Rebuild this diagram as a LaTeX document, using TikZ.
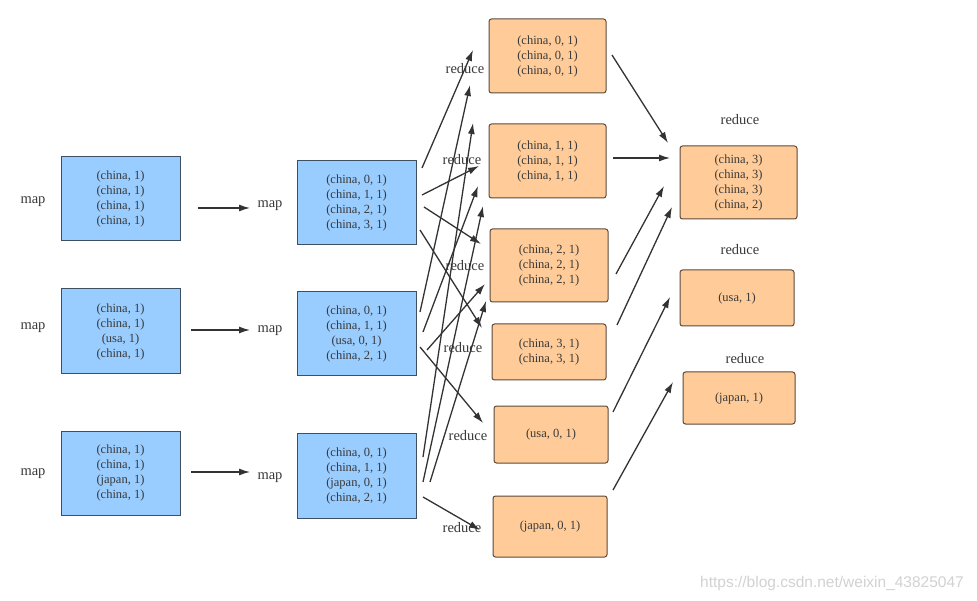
\documentclass[tikz,border=0pt]{standalone}
\usepackage{fontspec}
\setmainfont{Liberation Serif}
\newfontfamily\wmfont{Liberation Sans}
\usetikzlibrary{arrows.meta}
\definecolor{bluefill}{HTML}{99CCFF}
\definecolor{blueline}{HTML}{3C4F63}
\definecolor{orfill}{HTML}{FFCC99}
\definecolor{orline}{HTML}{5C4A3A}
\definecolor{txtcol}{HTML}{3A3A3A}
\definecolor{arrcol}{HTML}{333333}
\definecolor{wmcol}{HTML}{D2D2D2}
\begin{document}
\begin{tikzpicture}[x=1pt,y=-1pt,
  bbox/.style={draw=blueline, fill=bluefill, line width=1pt, inner sep=0pt, text=txtcol, align=center, font=\fontsize{12.5}{15}\selectfont},
  obox/.style={draw=orline, fill=orfill, line width=1pt, rounded corners=2.5pt, inner sep=0pt, text=txtcol, align=center, font=\fontsize{12.5}{15}\selectfont},
  lbl/.style={text=txtcol, font=\fontsize{14.5}{16}\selectfont, inner sep=0pt},
  conn/.style={draw=arrcol, line width=1.3pt, -{Latex[length=11pt,width=7pt]}}]
\useasboundingbox[fill=white] (0,0) rectangle (977,601);

% left column
\node[bbox, minimum width=119pt, minimum height=84pt] (L1) at (120.5,199) {(china, 1)\\(china, 1)\\(china, 1)\\(china, 1)};
\node[bbox, minimum width=119pt, minimum height=85pt] (L2) at (120.5,331.5) {(china, 1)\\(china, 1)\\(usa, 1)\\(china, 1)};
\node[bbox, minimum width=119pt, minimum height=84pt] (L3) at (120.5,473) {(china, 1)\\(china, 1)\\(japan, 1)\\(china, 1)};
\node[lbl] (ml1) at (33,202) {map};
\node[lbl] (ml2) at (33,328) {map};
\node[lbl] (ml3) at (33,474) {map};

% middle column
\node[bbox, minimum width=119pt, minimum height=84pt] (M1) at (356.5,203) {(china, 0, 1)\\(china, 1, 1)\\(china, 2, 1)\\(china, 3, 1)};
\node[bbox, minimum width=119pt, minimum height=84pt] (M2) at (356.5,334) {(china, 0, 1)\\(china, 1, 1)\\(usa, 0, 1)\\(china, 2, 1)};
\node[bbox, minimum width=119pt, minimum height=85pt] (M3) at (356.5,475.5) {(china, 0, 1)\\(china, 1, 1)\\(japan, 0, 1)\\(china, 2, 1)};
\node[lbl] (mm1) at (270,206) {map};
\node[lbl] (mm2) at (270,331) {map};
\node[lbl] (mm3) at (270,478) {map};

% reduce column
\node[obox, minimum width=117pt, minimum height=74pt] (R0) at (547.5,56) {(china, 0, 1)\\(china, 0, 1)\\(china, 0, 1)};
\node[obox, minimum width=117pt, minimum height=74pt] (R1) at (547.5,161) {(china, 1, 1)\\(china, 1, 1)\\(china, 1, 1)};
\node[obox, minimum width=118pt, minimum height=73pt] (R2) at (549,265.5) {(china, 2, 1)\\(china, 2, 1)\\(china, 2, 1)};
\node[obox, minimum width=114pt, minimum height=56pt] (R3) at (549,352) {(china, 3, 1)\\(china, 3, 1)};
\node[obox, minimum width=114pt, minimum height=57pt] (R4) at (551,434.5) {(usa, 0, 1)};
\node[obox, minimum width=114pt, minimum height=61pt] (R5) at (550,526.5) {(japan, 0, 1)};
\node[lbl] (rl0) at (465,69) {reduce};
\node[lbl] (rl1) at (462,160) {reduce};
\node[lbl] (rl2) at (465,266) {reduce};
\node[lbl] (rl3) at (463,348) {reduce};
\node[lbl] (rl4) at (468,436) {reduce};
\node[lbl] (rl5) at (462,528) {reduce};

% final column
\node[obox, minimum width=117pt, minimum height=73pt] (F1) at (738.5,182.5) {(china, 3)\\(china, 3)\\(china, 3)\\(china, 2)};
\node[obox, minimum width=114pt, minimum height=56pt] (F2) at (737,298) {(usa, 1)};
\node[obox, minimum width=112pt, minimum height=52pt] (F3) at (739,398) {(japan, 1)};
\node[lbl] (fl1) at (740,120) {reduce};
\node[lbl] (fl2) at (740,250) {reduce};
\node[lbl] (fl3) at (745,359) {reduce};

% connector end points
\coordinate (a1s) at (198,208); \coordinate (a1e) at (250,208);
\coordinate (a2s) at (191,330); \coordinate (a2e) at (250,330);
\coordinate (a3s) at (191,472); \coordinate (a3e) at (250,472);

\coordinate (m1a) at (422,168); \coordinate (m1b) at (422,195);
\coordinate (m1c) at (424,207); \coordinate (m1d) at (420,230);
\coordinate (m2a) at (420,312); \coordinate (m2b) at (423,332);
\coordinate (m2c) at (427,350); \coordinate (m2d) at (420,347);
\coordinate (m3a) at (423,457); \coordinate (m3b) at (423,482);
\coordinate (m3c) at (430,482); \coordinate (m3d) at (423,497);

\coordinate (r0a) at (473,50);  \coordinate (r0b) at (470,85);  \coordinate (r0c) at (473,123);
\coordinate (r1a) at (479,166); \coordinate (r1b) at (478,186); \coordinate (r1c) at (483,206);
\coordinate (r2a) at (481,244); \coordinate (r2b) at (485,284); \coordinate (r2c) at (486,301);
\coordinate (r3a) at (482,328); \coordinate (r4a) at (483,423); \coordinate (r5a) at (480,530);

\coordinate (s0) at (612,55);  \coordinate (e0) at (668,143);
\coordinate (s1) at (613,158); \coordinate (e1) at (670,158);
\coordinate (s2) at (616,274); \coordinate (e2) at (664,186);
\coordinate (s3) at (617,325); \coordinate (e3) at (672,207);
\coordinate (s4) at (613,412); \coordinate (e4) at (670,297);
\coordinate (s5) at (613,490); \coordinate (e5) at (673,382);

% map arrows
\draw[conn] (a1s) -- (a1e);
\draw[conn] (a2s) -- (a2e);
\draw[conn] (a3s) -- (a3e);

% shuffle arrows
\draw[conn] (m1a) -- (r0a);
\draw[conn] (m2a) -- (r0b);
\draw[conn] (m3a) -- (r0c);
\draw[conn] (m1b) -- (r1a);
\draw[conn] (m2b) -- (r1b);
\draw[conn] (m3b) -- (r1c);
\draw[conn] (m1c) -- (r2a);
\draw[conn] (m2c) -- (r2b);
\draw[conn] (m3c) -- (r2c);
\draw[conn] (m1d) -- (r3a);
\draw[conn] (m2d) -- (r4a);
\draw[conn] (m3d) -- (r5a);

% reduce arrows
\draw[conn] (s0) -- (e0);
\draw[conn] (s1) -- (e1);
\draw[conn] (s2) -- (e2);
\draw[conn] (s3) -- (e3);
\draw[conn] (s4) -- (e4);
\draw[conn] (s5) -- (e5);

\node[text=wmcol, font=\wmfont\fontsize{15.5}{17}\selectfont, inner sep=0pt] (wm) at (832,583) {https://blog.csdn.net/weixin\_43825047};
\end{tikzpicture}
\end{document}
